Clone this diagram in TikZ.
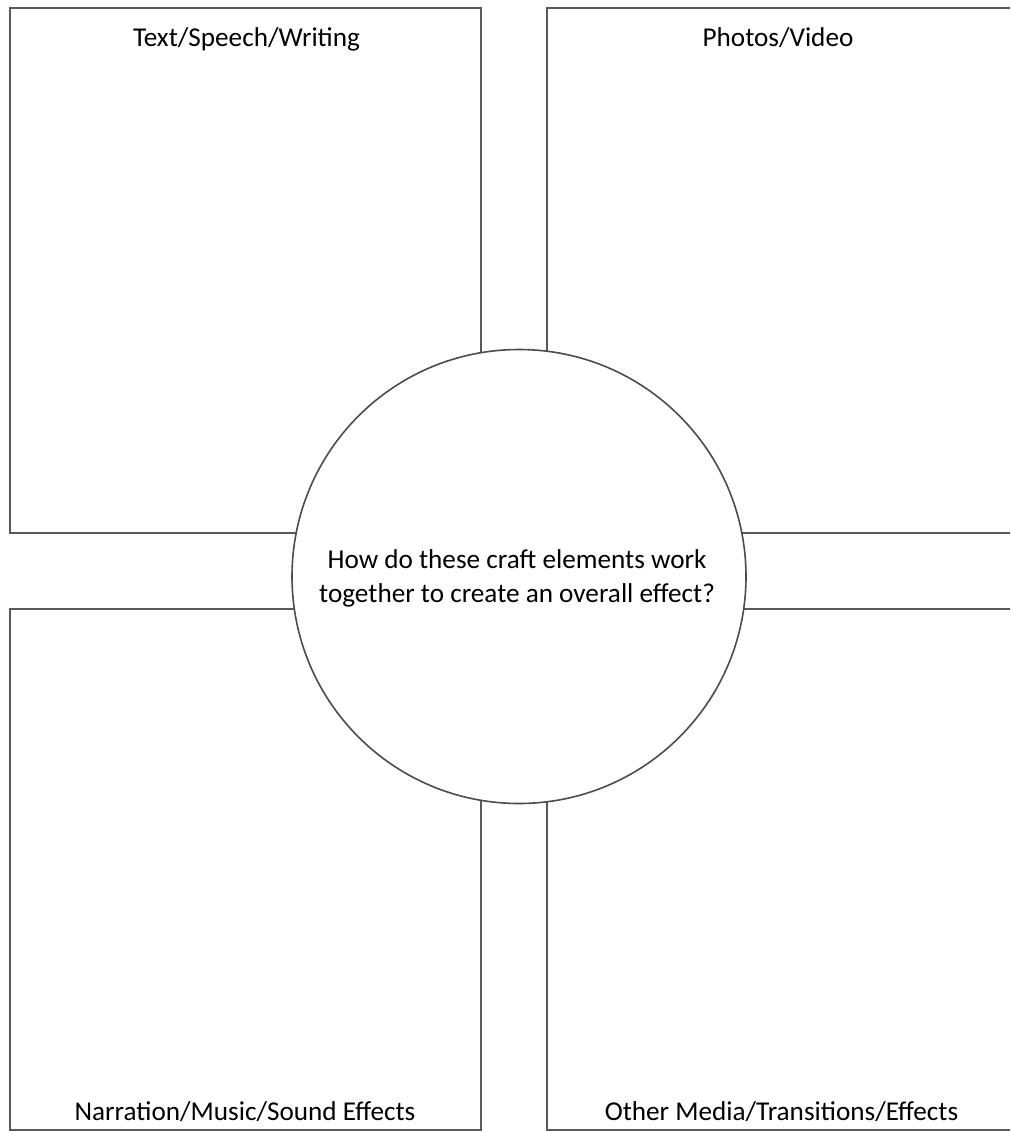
\documentclass[tikz,border=0pt]{standalone}
\usepackage{fontspec}
\setmainfont{Carlito}
\begin{document}
\begin{tikzpicture}[x=1pt,y=-1pt,
  panel/.style={draw=black!65, line width=1.6pt, fill=white, rectangle, inner sep=0pt},
  hub/.style={draw=black!70, line width=1.6pt, fill=white, circle, inner sep=0pt, minimum size=454pt},
  lbl/.style={font=\fontsize{27.2}{32}\selectfont, text=black, anchor=base, inner sep=0pt}]
\useasboundingbox (0,0) rectangle (1010,1131);
\clip (0,0) rectangle (1010,1131);
\fill[white] (0,0) rectangle (1010,1131);
\node[panel, minimum width=471pt, minimum height=525pt] (tl) at (245.5,270.5) {};
\node[panel, minimum width=469pt, minimum height=525pt] (tr) at (781.5,270.5) {};
\node[panel, minimum width=471pt, minimum height=521pt] (bl) at (245.5,869.5) {};
\node[panel, minimum width=469pt, minimum height=521pt] (br) at (781.5,869.5) {};
\node[hub] (c) at (519,576.5) {};
\node[lbl] (tlt) at (246.5,47) {Text/Speech/Writing};
\node[lbl] (trt) at (778,47) {Photos/Video};
\node[lbl] (blt) at (245,1120) {Narration/Music/Sound Effects};
\node[lbl] (brt) at (781.5,1120) {Other Media/Transitions/Effects};
\node[lbl] (q1) at (517,568) {How do these craft elements work};
\node[lbl] (q2) at (517,602) {together to create an overall effect?};
\end{tikzpicture}
\end{document}
